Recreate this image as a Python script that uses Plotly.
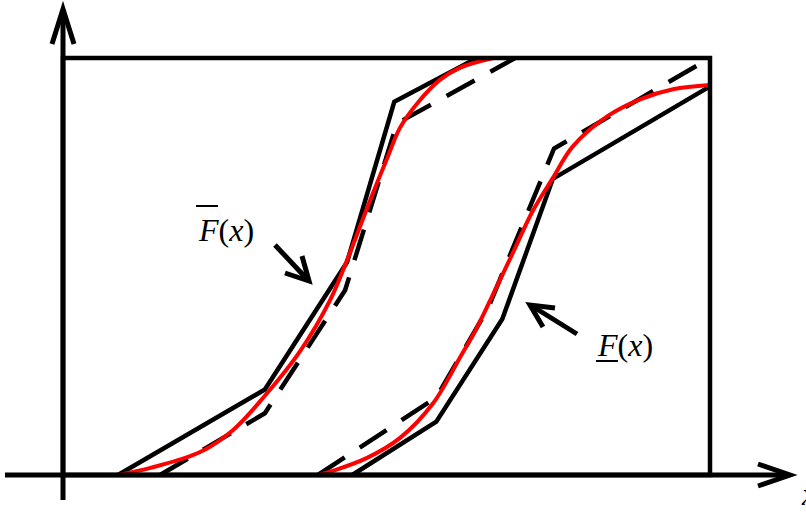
import plotly.graph_objects as go

W, H = 806, 518

# ---- data (x: 0..10 across the frame, y: 0..1 frame height) ----
upper_solid_x = [0.85, 3.12, 4.39, 5.12, 6.40]
upper_solid_y = [0.0, 0.205, 0.510, 0.895, 1.0]

upper_dash_x = [1.50, 3.12, 4.36, 5.16, 6.99]
upper_dash_y = [0.0, 0.148, 0.443, 0.843, 1.0]

upper_red_x = [0.85, 1.35, 2.12, 2.63, 3.12, 3.66, 4.13, 4.44, 4.75, 5.02, 5.21, 5.49, 5.83, 6.14, 6.65]
upper_red_y = [0.0, 0.017, 0.055, 0.108, 0.190, 0.296, 0.420, 0.535, 0.660, 0.763, 0.833, 0.894, 0.948, 0.977, 1.0]

lower_solid_x = [4.47, 5.77, 6.79, 7.57, 10.0]
lower_solid_y = [0.0, 0.128, 0.374, 0.710, 0.932]

lower_dash_x = [3.94, 5.77, 6.57, 7.59, 10.0]
lower_dash_y = [0.0, 0.186, 0.400, 0.783, 1.0]

lower_red_x = [3.94, 4.17, 4.70, 5.21, 5.72, 6.14, 6.38, 6.68, 6.96, 7.26, 7.57, 7.88, 8.41, 8.92, 9.43, 10.0]
lower_red_y = [0.0, 0.010, 0.041, 0.089, 0.172, 0.283, 0.348, 0.444, 0.535, 0.633, 0.712, 0.788, 0.860, 0.901, 0.925, 0.935]

label_upper = "<i>F</i>(<i>x</i>)"
label_lower = "<i>F</i>(<i>x</i>)"
axis_label = "<i>x</i>"

# ---- axis mapping: frame origin at pixel (63, 475), 64.7 px per x unit, 417 px per y unit ----
X0, Y0, SX, SY = 63.0, 475.0, 64.7, 417.0
x_range = [-X0 / SX, (W - X0) / SX]
y_range = [-(H - Y0) / SY, Y0 / SY]


def P(px, py):
    return f"{px / W:.5f},{1 - py / H:.5f}"


fig = go.Figure()

BLACK = "black"
RED = "#ff0000"

fig.add_trace(go.Scatter(x=upper_solid_x, y=upper_solid_y, mode="lines",
                         line=dict(color=BLACK, width=4.5), hoverinfo="skip"))
fig.add_trace(go.Scatter(x=upper_dash_x, y=upper_dash_y, mode="lines",
                         line=dict(color=BLACK, width=4.5, dash="32px,18px"), hoverinfo="skip"))
fig.add_trace(go.Scatter(x=lower_solid_x, y=lower_solid_y, mode="lines",
                         line=dict(color=BLACK, width=4.5), hoverinfo="skip"))
fig.add_trace(go.Scatter(x=lower_dash_x, y=lower_dash_y, mode="lines",
                         line=dict(color=BLACK, width=4.5, dash="32px,18px"), hoverinfo="skip"))
fig.add_trace(go.Scatter(x=upper_red_x, y=upper_red_y, mode="lines",
                         line=dict(color=RED, width=4, shape="spline", smoothing=1.0), hoverinfo="skip"))
fig.add_trace(go.Scatter(x=lower_red_x, y=lower_red_y, mode="lines",
                         line=dict(color=RED, width=4, shape="spline", smoothing=1.0), hoverinfo="skip"))

shapes = []
# frame
shapes.append(dict(type="rect", xref="x", yref="y", x0=0, y0=0, x1=10, y1=1,
                   line=dict(color=BLACK, width=4.5), fillcolor="rgba(0,0,0,0)"))


def path(points, width=4.5):
    d = "M" + " L".join(P(*p) for p in points)
    return dict(type="path", xref="paper", yref="paper", path=d,
                line=dict(color=BLACK, width=width))


# axes with open arrowheads
shapes.append(path([(63, 500), (63, 10)], 5))
shapes.append(path([(52, 44), (63, 9), (74, 44)], 5))
shapes.append(path([(5, 475), (788, 475)], 5))
shapes.append(path([(758, 464), (790, 475), (758, 486)], 5))
# pointer arrows
shapes.append(path([(275, 245), (307, 279)], 5))
shapes.append(path([(285, 273), (309, 281), (302, 256)], 5))
shapes.append(path([(577, 334), (532, 306)], 5))
shapes.append(path([(543, 327), (530, 305), (555, 308)], 5))
# overline / underline on F
shapes.append(path([(196, 206), (218, 206)], 2))
shapes.append(path([(596, 361), (618, 361)], 2))

fig.update_layout(shapes=shapes)

font = dict(family="Liberation Serif, Times New Roman, serif", size=32, color=BLACK)
fig.add_annotation(xref="paper", yref="paper", x=226 / W, y=1 - 230 / H, text=label_upper,
                   showarrow=False, font=font, xanchor="center", yanchor="middle")
fig.add_annotation(xref="paper", yref="paper", x=625 / W, y=1 - 345 / H, text=label_lower,
                   showarrow=False, font=font, xanchor="center", yanchor="middle")
fig.add_annotation(xref="paper", yref="paper", x=799 / W, y=1 - 494 / H, text=axis_label,
                   showarrow=False, font=font, xanchor="left", yanchor="middle")

fig.update_layout(
    width=W, height=H,
    margin=dict(l=0, r=0, t=0, b=0),
    paper_bgcolor="white", plot_bgcolor="white",
    showlegend=False,
    xaxis=dict(range=x_range, visible=False, fixedrange=True),
    yaxis=dict(range=y_range, visible=False, fixedrange=True),
)

fig.write_html("out.html", config={"displayModeBar": False},
               post_script="document.body.style.margin='0';document.body.style.overflow='hidden';")
